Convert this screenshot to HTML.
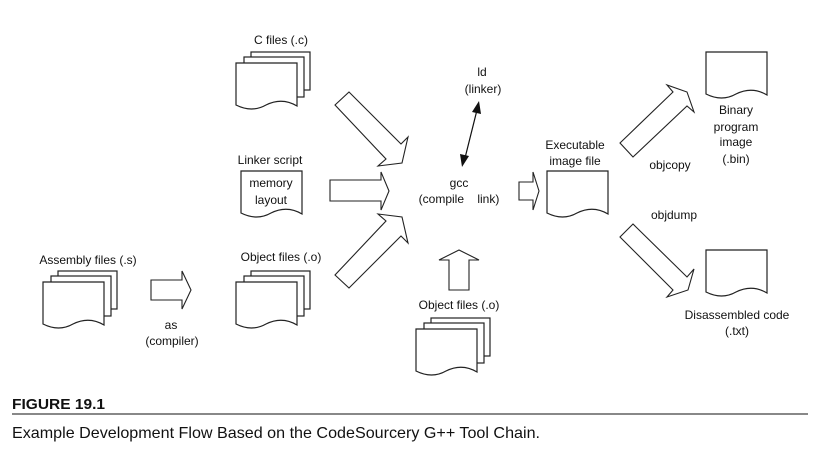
<!DOCTYPE html>
<html><head><meta charset="utf-8"><style>
html,body{margin:0;padding:0;background:#fff;width:821px;height:452px;overflow:hidden}
svg{display:block}
text{font-family:"Liberation Sans",Arial,sans-serif;font-size:12px;fill:#111}
</style></head><body>
<svg width="821" height="452" viewBox="0 0 821 452" xmlns="http://www.w3.org/2000/svg">
<defs>
<g id="doc"><path d="M0,0 H61 V43 Q46,34 30,42 Q16,50 0,42 Z" fill="#fff" stroke="#222" stroke-width="1.2"/></g>
<g id="stack">
<rect x="15" y="-11" width="59" height="38" fill="#fff" stroke="#222" stroke-width="1.2"/>
<rect x="8" y="-6" width="60" height="40" fill="#fff" stroke="#222" stroke-width="1.2"/>
<use href="#doc"/>
</g>
</defs>
<g fill="#fff" stroke="#222" stroke-width="1.1">
<use href="#stack" x="236" y="63"/>
<use href="#stack" x="236" y="282"/>
<use href="#stack" x="43" y="282"/>
<use href="#stack" x="416" y="329"/>
<use href="#doc" x="241" y="171"/>
<use href="#doc" x="547" y="171"/>
<use href="#doc" x="706" y="52"/>
<use href="#doc" x="706" y="250"/>
<polygon points="151,280 182,280 182,271 191,290 182,309 182,300 151,300"/>
<polygon points="330,180 381,180 381,172 389,191 381,210 381,201 330,201"/>
<polygon points="335,105 349,92 401,144 408,137 402,163 378,166 386,159"/>
<polygon points="335,275 349,288 401,236 408,243 402,217 378,214 386,221"/>
<polygon points="449,290 469,290 469,260 479,260 459,250 439,260 449,260"/>
<polygon points="519,182 533,182 533,172 539,191 533,210 533,200 519,200"/>
<polygon points="620,143 673,92 667,85 687,92 694,112 687,106 633,157"/>
<polygon points="633,224 687,277 694,269 688,290 667,297 673,290 620,237"/>
</g>
<line x1="477" y1="110" x2="465" y2="158" stroke="#111" stroke-width="1.2"/>
<polygon points="479,101 481,114 472,112" fill="#111"/>
<polygon points="462,167 460,154 469,156" fill="#111"/>
<g text-anchor="middle">
<text x="281" y="44">C files (.c)</text>
<text x="270" y="164">Linker script</text>
<text x="271" y="187">memory</text>
<text x="271" y="204">layout</text>
<text x="281" y="261">Object files (.o)</text>
<text x="88" y="264">Assembly files (.s)</text>
<text x="171" y="329">as</text>
<text x="172" y="345">(compiler)</text>
<text x="482" y="76">ld</text>
<text x="483" y="93">(linker)</text>
<text x="459" y="187">gcc</text>
<text x="459" y="203">(compile&#160;&#160;&#160;&#160;link)</text>
<text x="459" y="309">Object files (.o)</text>
<text x="575" y="149">Executable</text>
<text x="575" y="165">image file</text>
<text x="670" y="169">objcopy</text>
<text x="674" y="219">objdump</text>
<text x="736" y="114">Binary</text>
<text x="736" y="131">program</text>
<text x="736" y="146">image</text>
<text x="736" y="163">(.bin)</text>
<text x="737" y="319">Disassembled code</text>
<text x="737" y="335">(.txt)</text>
</g>
<text x="12" y="409" style="font-size:15px;font-weight:bold" textLength="93" lengthAdjust="spacingAndGlyphs">FIGURE 19.1</text>
<line x1="12" y1="414" x2="808" y2="414" stroke="#111" stroke-width="1"/>
<text x="12" y="438" style="font-size:16px" textLength="528" lengthAdjust="spacingAndGlyphs">Example Development Flow Based on the CodeSourcery G++ Tool Chain.</text>
</svg>
</body></html>
